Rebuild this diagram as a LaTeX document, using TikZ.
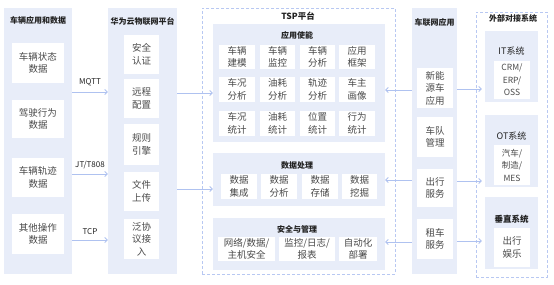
\documentclass[tikz,border=0pt]{standalone}
\usepackage{fontspec}
\setmainfont{Noto Sans CJK SC}
\usetikzlibrary{arrows.meta}
\definecolor{panel}{HTML}{E8EDF9}
\definecolor{dashc}{HTML}{B8C8F2}
\definecolor{arrc}{HTML}{AFC2F0}
\definecolor{txt}{HTML}{4A4A4A}
\definecolor{ttl}{HTML}{222222}
\newcommand\rbox[7]{\node[#1, minimum width={#5-#3}, minimum height={#6-#4}] (#2) at ({(#3+#5)/2},{(#4+#6)/2}) {#7};}
\tikzset{
  pnl/.style={fill=panel, draw=none, inner sep=0pt},
  dsh/.style={draw=dashc, line width=0.9pt, dash pattern=on 3pt off 2pt, fill=white, inner sep=0pt},
  wb/.style={fill=white, draw=none, inner sep=0pt, align=center, text=txt, font=\fontsize{9.5}{12.5}\selectfont},
  sm/.style={wb, font=\fontsize{8.5}{12.5}\selectfont},
  ttlt/.style={text=ttl, font=\bfseries\fontsize{8}{10}\selectfont, inner sep=0pt},
  subt/.style={text=ttl, font=\fontsize{9}{11}\selectfont, inner sep=0pt},
  lbl/.style={text=ttl, font=\fontsize{8}{10}\selectfont, inner sep=0pt},
  arr/.style={draw=arrc, line width=0.8pt, -{Straight Barb[length=2.5pt,width=5pt]}},
}
\begin{document}
\begin{tikzpicture}[x=1pt,y=-1pt]
\useasboundingbox (0,0) rectangle (554,284);
% left panel
\rbox{pnl}{P1}{4}{8}{72}{274}{}
\node[ttlt] (t1) at (38,20) {车辆应用和数据};
\rbox{wb}{L1}{12}{43}{64}{83}{车辆状态\\数据}
\rbox{wb}{L2}{12}{100}{64}{138}{驾驶行为\\数据}
\rbox{wb}{L3}{12}{158}{64}{197}{车辆轨迹\\数据}
\rbox{wb}{L4}{12}{214}{64}{254}{其他操作\\数据}
% huawei panel
\rbox{pnl}{P2}{108}{8}{177}{274}{}
\node[ttlt] (t2) at (142.5,21) {华为云物联网平台};
\rbox{wb}{H1}{124}{35}{159}{74}{安全\\认证}
\rbox{wb}{H2}{124}{79}{159}{118}{远程\\配置}
\rbox{wb}{H3}{124}{124}{159}{165}{规则\\引擎}
\rbox{wb}{H4}{124}{172}{159}{211}{文件\\上传}
\rbox{wb}{H5}{124}{219}{159}{259}{泛协\\议接\\入}
% arrows left
\coordinate (m1) at (0,92);
\coordinate (m2) at (0,174);
\coordinate (m3) at (0,240);
\draw[arr] (P1.east |- m1) -- (P2.west |- m1);
\draw[arr] (P1.east |- m2) -- (P2.west |- m2);
\draw[arr] (P1.east |- m3) -- (P2.west |- m3);
\node[lbl] (l1) at (90,82) {MQTT};
\node[lbl] (l2) at (90,165) {JT/T808};
\node[lbl] (l3) at (90,232) {TCP};
% TSP
\rbox{dsh}{T}{202}{8}{395}{274}{}
\node[ttlt, font=\bfseries\fontsize{8.5}{10}\selectfont] (t3) at (298,16.5) {TSP平台};
\rbox{pnl}{A}{213}{24}{385}{142}{}
\node[ttlt] (ta) at (297,35) {应用使能};
\rbox{wb}{A11}{219}{45}{255}{69}{车辆\\建模}
\rbox{wb}{A12}{260}{45}{295}{69}{车辆\\监控}
\rbox{wb}{A13}{300}{45}{335}{69}{车辆\\分析}
\rbox{wb}{A14}{339}{45}{375}{69}{应用\\框架}
\rbox{wb}{A21}{219}{77}{255}{102}{车况\\分析}
\rbox{wb}{A22}{260}{77}{295}{102}{油耗\\分析}
\rbox{wb}{A23}{300}{77}{335}{102}{轨迹\\分析}
\rbox{wb}{A24}{339}{77}{375}{102}{车主\\画像}
\rbox{wb}{A31}{219}{111}{255}{136}{车况\\统计}
\rbox{wb}{A32}{260}{111}{295}{136}{油耗\\统计}
\rbox{wb}{A33}{300}{111}{335}{136}{位置\\统计}
\rbox{wb}{A34}{339}{111}{375}{136}{行为\\统计}
\rbox{pnl}{D}{213}{153}{385}{206}{}
\node[ttlt] (td) at (297,165) {数据处理};
\rbox{wb}{D1}{221}{174}{257}{199}{数据\\集成}
\rbox{wb}{D2}{261}{174}{297}{199}{数据\\分析}
\rbox{wb}{D3}{302}{174}{338}{199}{数据\\存储}
\rbox{wb}{D4}{342}{174}{377}{199}{数据\\挖掘}
\rbox{pnl}{S}{213}{218}{385}{270}{}
\node[ttlt] (ts) at (297,229) {安全与管理};
\rbox{wb}{S1}{218}{237}{275}{261}{网络/数据/\\主机安全}
\rbox{wb}{S2}{279}{237}{335}{261}{监控/日志/\\报表}
\rbox{wb}{S3}{339}{237}{377}{261}{自动化\\部署}
% huawei -> TSP
\coordinate (m4) at (0,93);
\coordinate (m5) at (0,189);
\draw[arr] (P2.east |- m4) -- (A.west |- m4);
\draw[arr] (P2.east |- m5) -- (D.west |- m5);
% V panel
\rbox{pnl}{V}{412}{8}{457}{274}{}
\node[ttlt] (tv) at (434.5,22) {车联网应用};
\rbox{wb}{V1}{417}{68}{453}{108}{新能\\源车\\应用}
\rbox{wb}{V2}{417}{117}{453}{157}{车队\\管理}
\rbox{wb}{V3}{417}{169}{453}{207}{出行\\服务}
\rbox{wb}{V4}{417}{219}{453}{259}{租车\\服务}
\coordinate (m6) at (0,90);
\coordinate (m7) at (0,180);
\coordinate (m8) at (0,242);
\draw[arr] (V.west |- m6) -- (A.east |- m6);
\draw[arr] (V.west |- m7) -- (D.east |- m7);
\draw[arr] (V.west |- m8) -- (S.east |- m8);
% external
\rbox{dsh}{E}{476}{12}{547}{277}{}
\node[ttlt] (te) at (513,18.5) {外部对接系统};
\rbox{pnl}{IT}{485}{31}{538}{102}{}
\node[subt] (tit) at (511.5,51) {IT系统};
\rbox{sm}{IT1}{494}{61}{530}{99}{CRM/\\ERP/\\OSS}
\rbox{pnl}{OT}{485}{115}{538}{187}{}
\node[subt] (tot) at (511.5,136) {OT系统};
\rbox{sm}{OT1}{494}{145}{530}{185}{汽车/\\制造/\\MES}
\rbox{pnl}{VS}{485}{197}{538}{269}{}
\node[ttlt, font=\bfseries\fontsize{8.5}{10}\selectfont] (tvs) at (511.5,219) {垂直系统};
\rbox{wb}{VS1}{494}{228}{530}{267}{出行\\娱乐}
\coordinate (m9) at (0,89);
\coordinate (m10) at (0,181);
\coordinate (m11) at (0,241);
\draw[arr, shorten >=3pt] (V.east |- m9) -- (IT.west |- m9);
\draw[arr, shorten >=3pt] (V.east |- m10) -- (OT.west |- m10);
\draw[arr, shorten >=3pt] (V.east |- m11) -- (VS.west |- m11);
\end{tikzpicture}
\end{document}
